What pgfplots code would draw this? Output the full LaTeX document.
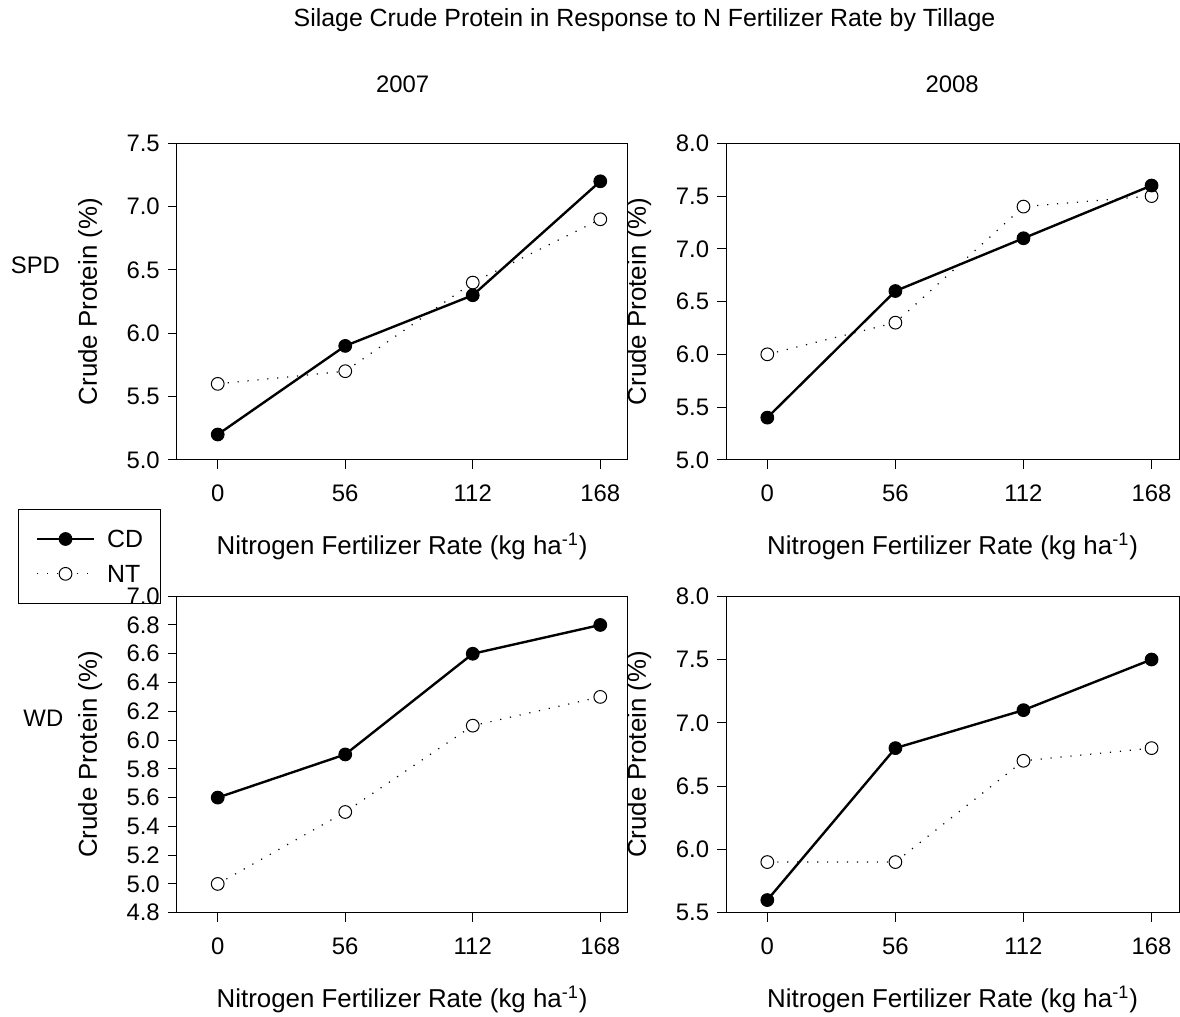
\documentclass[border=0pt]{standalone}
\usepackage{fontspec}
\setmainfont{Liberation Sans}
\usepackage{pgfplots}
\pgfplotsset{compat=1.18}
\begin{document}
\pgfplotsset{
  panel/.style={
    scale only axis,
    width=#1, height=159pt,
    anchor=south west,
    xmin=-18, xmax=180,
    xtick={0,56,112,168},
    tick pos=left,
    tick align=outside,
    major tick length=4.5pt,
    axis line style={line width=0.5pt},
    every tick/.style={line width=0.5pt,black},
    /pgf/number format/assume math mode=true,
    ticklabel style={font=\fontsize{12}{14}\selectfont},
    yticklabel style={/pgf/number format/fixed,/pgf/number format/fixed zerofill,/pgf/number format/precision=1, xshift=-0.5pt},
    xticklabel style={yshift=-4.5pt},
    xlabel={Nitrogen Fertilizer Rate (kg ha\textsuperscript{-1})},
    ylabel={Crude Protein (\%)},
    label style={font=\fontsize{13}{15}\selectfont},
    xlabel style={at={(axis description cs:0.5,-0.274)},anchor=center},
    ylabel style={at={(axis description cs:-0.192,0.5)},anchor=center},
    legend image code/.code={\draw[mark repeat=2,mark phase=2,##1] plot coordinates {(0pt,0pt)(14.25pt,0pt)(28.5pt,0pt)};},
  },
  cd/.style={black, line width=1.2pt, mark=*, mark size=3.2pt, mark options={solid, line width=0.5pt, fill=black}},
  nt/.style={black, line width=0.6pt, dash pattern=on 0.6pt off 4.4pt, mark=*, mark size=3.2pt, mark options={solid, line width=0.5pt, draw=black, fill=white}},
}
\begin{tikzpicture}
\useasboundingbox (0,0) rectangle (590pt,510.5pt);
\node[font=\fontsize{12.5}{14}\selectfont] at (321pt,500.5pt) {Silage Crude Protein in Response to N Fertilizer Rate by Tillage};
\node[font=\fontsize{12}{14}\selectfont] at (199.5pt,468pt) {2007};
\node[font=\fontsize{12}{14}\selectfont] at (475.5pt,468pt) {2008};
\node[font=\fontsize{12}{14}\selectfont] at (15pt,377pt) {SPD};
\node[font=\fontsize{12}{14}\selectfont] at (19pt,149.5pt) {WD};

% Top-left: 2007 SPD
\begin{axis}[panel=226.5pt, at={(86pt,279.5pt)}, ymin=5.0, ymax=7.5, ytick={5.0,5.5,6.0,6.5,7.0,7.5}]
\addplot[nt] coordinates {(0,5.6) (56,5.7) (112,6.4) (168,6.9)};
\addplot[cd] coordinates {(0,5.2) (56,5.9) (112,6.3) (168,7.2)};
\end{axis}

% Top-right: 2008 SPD
\begin{axis}[panel=227.5pt, at={(362pt,279.5pt)}, ymin=5.0, ymax=8.0, ytick={5.0,5.5,6.0,6.5,7.0,7.5,8.0}]
\addplot[nt] coordinates {(0,6.0) (56,6.3) (112,7.4) (168,7.5)};
\addplot[cd] coordinates {(0,5.4) (56,6.6) (112,7.1) (168,7.6)};
\end{axis}

% Bottom-left: 2007 WD
\begin{axis}[panel=226.5pt, at={(86pt,52pt)}, ymin=4.8, ymax=7.0, ytick={4.8,5.0,5.2,5.4,5.6,5.8,6.0,6.2,6.4,6.6,6.8,7.0},
  legend style={at={(axis description cs:-0.353,1.275)}, anchor=north west, draw=black, fill=none, line width=0.5pt,
    font=\fontsize{12.5}{14}\selectfont, inner xsep=9pt, inner ysep=10.25pt,
    nodes={inner sep=0pt, text height=9pt, text depth=0pt}, row sep=8.5pt, column sep=6pt},
  legend cell align=left, reverse legend]
\addplot[nt] coordinates {(0,5.0) (56,5.5) (112,6.1) (168,6.3)};
\addplot[cd] coordinates {(0,5.6) (56,5.9) (112,6.6) (168,6.8)};
\legend{NT,CD}
\end{axis}

% Bottom-right: 2008 WD
\begin{axis}[panel=227.5pt, at={(362pt,52pt)}, ymin=5.5, ymax=8.0, ytick={5.5,6.0,6.5,7.0,7.5,8.0}]
\addplot[nt] coordinates {(0,5.9) (56,5.9) (112,6.7) (168,6.8)};
\addplot[cd] coordinates {(0,5.6) (56,6.8) (112,7.1) (168,7.5)};
\end{axis}
\end{tikzpicture}
\end{document}
